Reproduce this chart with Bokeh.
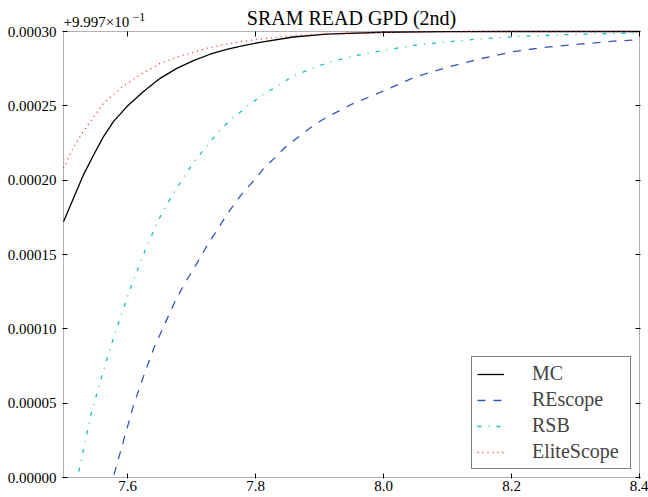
from bokeh.plotting import figure
from bokeh.models import FixedTicker, LinearAxis, Label, Legend, LegendItem, Range1d, BoxAnnotation
from bokeh.embed import file_html
from bokeh.resources import INLINE

# ---- data (y values are offsets from 0.9997, in units of 1e-5) ----
mc_x = [7.500, 7.5156, 7.531, 7.547, 7.5625, 7.578, 7.599, 7.625, 7.651, 7.677, 7.703,
        7.729, 7.755, 7.781, 7.807, 7.859, 7.911, 8.000, 8.100, 8.200, 8.400]
mc_y = [17.2, 18.78, 20.34, 21.69, 22.93, 23.94, 24.95, 25.96, 26.85, 27.52, 28.04,
        28.47, 28.80, 29.05, 29.27, 29.63, 29.82, 29.95, 29.99, 30.0, 30.0]

re_x = [7.579, 7.594, 7.609, 7.625, 7.641, 7.659, 7.675, 7.690, 7.703, 7.715, 7.727,
        7.741, 7.754, 7.767, 7.781, 7.798, 7.813, 7.830, 7.846, 7.867, 7.888, 7.906,
        7.950, 8.000, 8.047, 8.100, 8.150, 8.203, 8.255, 8.307, 8.360, 8.400]
re_y = [0.2, 2.5, 4.8, 6.8, 8.7, 10.4, 11.9, 13.1, 14.0, 14.9, 15.8,
        16.7, 17.6, 18.4, 19.2, 20.0, 20.8, 21.5, 22.2, 22.9, 23.6, 24.1,
        25.1, 26.0, 26.9, 27.6, 28.15, 28.65, 28.95, 29.15, 29.35, 29.45]

rsb_x = [7.524, 7.542, 7.557, 7.573, 7.589, 7.607, 7.624, 7.635, 7.647, 7.660, 7.675,
         7.689, 7.706, 7.724, 7.742, 7.762, 7.784, 7.807, 7.859, 7.912, 7.964, 8.003,
         8.050, 8.099, 8.150, 8.203, 8.307, 8.400]
rsb_y = [0.4, 4.1, 6.4, 8.7, 10.8, 13.0, 14.9, 16.0, 17.2, 18.25, 19.33,
         20.3, 21.35, 22.3, 23.25, 24.1, 24.85, 25.62, 27.0, 27.9, 28.45, 28.75,
         29.08, 29.3, 29.5, 29.65, 29.82, 29.9]

es_x = [7.500, 7.516, 7.529, 7.547, 7.5625, 7.589, 7.615, 7.651, 7.6875, 7.729, 7.771,
        7.807, 7.859, 7.911, 7.950, 8.050, 8.200, 8.400]
es_y = [20.8, 22.25, 23.15, 24.27, 25.17, 26.18, 26.96, 27.86, 28.42, 28.92, 29.27,
        29.49, 29.72, 29.85, 29.91, 29.97, 30.0, 30.0]

series_names = ["MC", "REscope", "RSB", "EliteScope"]

x_ticks = [7.6, 7.8, 8.0, 8.2, 8.4]
x_tick_labels = ["7.6", "7.8", "8.0", "8.2", "8.4"]
y_ticks = [0, 5, 10, 15, 20, 25, 30]
y_tick_labels = ["0.00000", "0.00005", "0.00010", "0.00015", "0.00020", "0.00025", "0.00030"]

title_text = "SRAM READ GPD (2nd)"
offset_text = "+9.997×10"
offset_exp = "−1"

X_MIN, X_MAX = 7.5, 8.4
Y_MIN, Y_MAX = 0, 30

FONT = "Liberation Serif"

# ---- layout: axes box 576x446 px; frame extended upward so title texts sit inside it ----
BOX_W, BOX_H = 576, 446
TOP_SPACE = 31                       # px above the axes box, for title texts
ux = (X_MAX - X_MIN) / BOX_W         # data units per px
uy = (Y_MAX - Y_MIN) / BOX_H

p = figure(width=648, height=497, output_backend="svg", toolbar_location=None, title=None,
           x_range=Range1d(X_MIN - ux, X_MAX + ux),
           y_range=Range1d(Y_MIN - uy, Y_MAX + TOP_SPACE * uy),
           min_border_left=62, min_border_right=8, min_border_top=0, min_border_bottom=19)
p.xgrid.visible = False
p.ygrid.visible = False
p.outline_line_color = None
p.background_fill_color = "white"
p.border_fill_color = "white"

p.xaxis.ticker = FixedTicker(ticks=x_ticks)
p.xaxis.major_label_overrides = {t: l for t, l in zip(x_ticks, x_tick_labels)}
p.yaxis.ticker = FixedTicker(ticks=y_ticks)
p.yaxis.major_label_overrides = {t: l for t, l in zip(y_ticks, y_tick_labels)}

right = LinearAxis(ticker=FixedTicker(ticks=y_ticks), major_label_text_color=None,
                   major_label_text_font_size="1px", major_label_standoff=0)
p.add_layout(right, "right")

for ax in [p.xaxis[0], p.yaxis[0], right]:
    ax.axis_line_color = None
    ax.major_tick_in = 5
    ax.major_tick_out = 0
    ax.major_tick_line_color = "black"
    ax.major_tick_line_width = 1
    ax.minor_tick_line_color = None
    ax.major_label_text_font = FONT

p.xaxis[0].major_label_text_color = "black"
p.yaxis[0].major_label_text_color = "black"
p.xaxis[0].major_label_text_font_size = "15px"
p.xaxis[0].major_label_standoff = 2
p.yaxis[0].major_label_text_font_size = "15px"
p.yaxis[0].major_label_standoff = 6

# axes box
p.add_layout(BoxAnnotation(left=X_MIN, right=X_MAX, bottom=Y_MIN, top=Y_MAX,
                           fill_color=None, fill_alpha=0, line_color="black", line_width=1))
# ticks along the top edge of the box
p.segment(x0=x_ticks, y0=[Y_MAX] * len(x_ticks), x1=x_ticks,
          y1=[Y_MAX - 5 * uy] * len(x_ticks), line_color="black", line_width=1)

r_mc = p.line(mc_x, mc_y, line_color="black", line_width=1.3)
r_re = p.line(re_x, re_y, line_color="#3355bb", line_width=1.3, line_dash="8 8")
r_rsb = p.line(rsb_x, rsb_y, line_color="#10bfbf", line_width=1.3, line_dash="4 7 1 7")
r_es = p.line(es_x, es_y, line_color="#ff2a2a", line_width=1.3, line_dash="1 4")

legend = Legend(items=[LegendItem(label=n, renderers=[r]) for n, r in
                       zip(series_names, [r_mc, r_re, r_rsb, r_es])],
                location="bottom_right", margin=9, padding=5, spacing=3,
                glyph_width=27, glyph_height=20, label_height=20, label_standoff=28,
                label_width=93,
                label_text_font=FONT, label_text_font_size="20px",
                border_line_color="black", border_line_width=1,
                background_fill_color="white", background_fill_alpha=1.0)
p.add_layout(legend)

p.add_layout(Label(x=(X_MIN + X_MAX) / 2, y=Y_MAX, y_offset=14, text=title_text,
                   text_align="center", text_baseline="alphabetic", text_font=FONT,
                   text_font_size="20px", text_color="black"))
p.add_layout(Label(x=X_MIN, y=Y_MAX, y_offset=10, text=offset_text, text_align="left",
                   text_baseline="alphabetic", text_font=FONT, text_font_size="15px",
                   text_color="black"))
p.add_layout(Label(x=X_MIN, y=Y_MAX, x_offset=69, y_offset=15, text=offset_exp,
                   text_align="left", text_baseline="alphabetic", text_font=FONT,
                   text_font_size="12px", text_color="black"))

open("out.html", "w").write(file_html(p, INLINE))
